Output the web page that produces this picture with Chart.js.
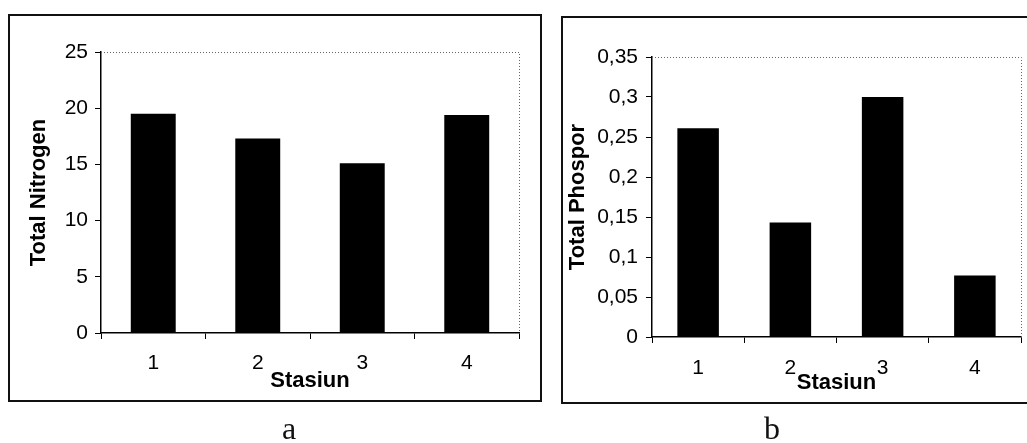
<!DOCTYPE html>
<html>
<head>
<meta charset="utf-8">
<script src="https://cdn.jsdelivr.net/npm/chart.js@4.4.1/dist/chart.umd.min.js"></script>
<style>
    html, body { margin: 0; padding: 0; background: #fff; }
    body { width: 1027px; height: 443px; position: relative; overflow: hidden; }
    .box { position: absolute; border: 2px solid #111; box-sizing: border-box; }
    .wrap { position: absolute; top: 0; height: 420px; }
    .cap { position: absolute; top: 410px; font-family: "Liberation Serif", "DejaVu Serif", serif; font-size: 32px; color: #111; transform: translateX(-50%); }
</style>
</head>
<body>
<div class="box" style="left:8px;top:14px;width:534px;height:388px;"></div>
<div class="box" style="left:561px;top:16px;width:480px;height:388px;"></div>
<div class="wrap" style="left:0;width:548px;"><canvas id="chartA"></canvas></div>
<div class="wrap" style="left:548px;width:479px;"><canvas id="chartB"></canvas></div>
<div class="cap" style="left:289px;">a</div>
<div class="cap" style="left:772px;">b</div>
<script>
    const stasiun = ["1", "2", "3", "4"];
    const totalNitrogen = [19.5, 17.3, 15.1, 19.4];
    const totalPhospor = [0.261, 0.143, 0.3, 0.077];
    const nitrogenAxis = { min: 0, max: 25, step: 5 };
    const phosporAxis = { min: 0, max: 0.35, step: 0.05 };

    const ink = "#000";
    const tickFont = { family: "'Liberation Sans', Arial, sans-serif", size: 21 };
    const titleFont = { family: "'Liberation Sans', Arial, sans-serif", size: 22, weight: "bold" };

    // dotted top/right edge of the plot area, like the Excel frame
    const plotFrame = {
        id: "plotFrame",
        afterDraw(chart) {
            const { ctx, chartArea: a } = chart;
            ctx.save();
            ctx.strokeStyle = "#666";
            ctx.lineWidth = 1;
            ctx.setLineDash([1, 2]);
            ctx.beginPath();
            ctx.moveTo(a.left, a.top + 0.5);
            ctx.lineTo(a.right + 0.5, a.top + 0.5);
            ctx.lineTo(a.right + 0.5, a.bottom);
            ctx.stroke();
            ctx.restore();
        },
    };

    const comma = (v) => String(Math.round(v * 100) / 100).replace(".", ",");

    const makeChart = (id, values, axis, yTitle, cfg) => {
        const ctx = document.getElementById(id);
        return new Chart(ctx, {
            type: "bar",
            data: {
                labels: stasiun,
                datasets: [
                    {
                        data: values,
                        backgroundColor: "#000",
                        borderWidth: 0,
                        barPercentage: cfg.bar,
                        categoryPercentage: 1,
                    },
                ],
            },
            options: {
                responsive: true,
                maintainAspectRatio: false,
                animation: false,
                layout: { padding: { top: cfg.top, right: cfg.right, left: 0, bottom: 0 } },
                plugins: { legend: { display: false }, tooltip: { enabled: false } },
                scales: {
                    x: {
                        afterFit: (s) => { s.height = cfg.xHeight; },
                        grid: { display: true, drawOnChartArea: false, offset: true, tickLength: 6, color: ink },
                        border: { display: true, color: ink, width: 1.5 },
                        ticks: { color: ink, font: tickFont, padding: cfg.xPad },
                        title: { display: true, text: "Stasiun", color: ink, font: titleFont, padding: { top: 0, bottom: cfg.xTitlePad } },
                    },
                    y: {
                        min: axis.min,
                        max: axis.max,
                        afterFit: (s) => { s.width = cfg.yWidth; },
                        grid: { display: true, drawOnChartArea: false, tickLength: 6, color: ink },
                        border: { display: true, color: ink, width: 1.5 },
                        ticks: { stepSize: axis.step, color: ink, font: tickFont, padding: cfg.yPad, callback: comma },
                        title: { display: true, text: yTitle, color: ink, font: titleFont, padding: { top: cfg.yTitlePad, bottom: 0 } },
                    },
                },
            },
            plugins: [plotFrame],
        });
    };

    makeChart("chartA", totalNitrogen, nitrogenAxis, "Total Nitrogen", {
        bar: 0.43, top: 52, right: 29, xHeight: 87, yWidth: 101,
        xPad: 12, yPad: 7, xTitlePad: 26, yTitlePad: 26,
    });
    makeChart("chartB", totalPhospor, phosporAxis, "Total Phospor", {
        bar: 0.45, top: 57, right: 6, xHeight: 83, yWidth: 104,
        xPad: 13, yPad: 8, xTitlePad: 24, yTitlePad: 17,
    });
</script>
</body>
</html>
